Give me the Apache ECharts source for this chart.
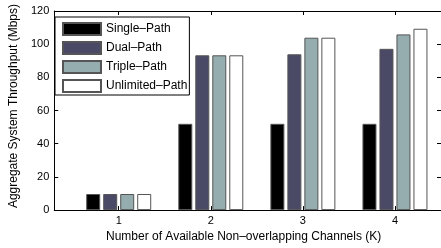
<!DOCTYPE html>
<html>
<head>
<meta charset="utf-8">
<script src="https://cdn.jsdelivr.net/npm/echarts@6/dist/echarts.min.js"></script>
<style>html,body{margin:0;padding:0;background:#fff}#c{width:441px;height:248px}</style>
</head>
<body>
<div id="c"></div>
<script>
var categories = [1, 2, 3, 4];
var categoryLabels = ['1', '2', '3', '4'];
var seriesNames = ['Single\u2013Path', 'Dual\u2013Path', 'Triple\u2013Path', 'Unlimited\u2013Path'];
var singlePath = [9.7, 52, 52, 52];
var dualPath = [9.7, 93.3, 93.9, 97.2];
var triplePath = [9.7, 93.3, 103.9, 105.9];
var unlimitedPath = [9.7, 93.3, 103.9, 109.3];
var yTicks = [0, 20, 40, 60, 80, 100, 120];

var colors = ['#000000', '#4a4a67', '#95adae', '#ffffff'];
var allValues = [singlePath, dualPath, triplePath, unlimitedPath];
var FONT = 'Liberation Sans, Arial, Helvetica, sans-serif';

var chart = echarts.init(document.getElementById('c'), null, {renderer: 'canvas'});

function pairs(vals) {
  return vals.map(function (v, i) { return [categories[i], v]; });
}

var series = allValues.map(function (vals, k) {
  return {
    name: seriesNames[k],
    type: 'bar',
    xAxisIndex: 0,
    yAxisIndex: 0,
    data: pairs(vals),
    barWidth: 14,
    barGap: '21.4%',
    itemStyle: {color: colors[k], borderColor: '#555', borderWidth: 1},
    emphasis: {disabled: true},
    animation: false
  };
});

var axisLineStyle = {show: true, onZero: false, lineStyle: {color: '#000', width: 1}};

chart.setOption({
  animation: false,
  grid: {left: 49, top: 11, width: 393.5, height: 202.3, containLabel: false},
  legend: {
    orient: 'vertical',
    left: 55,
    top: 17,
    padding: [5, 2, 2, 7],
    itemWidth: 38,
    itemHeight: 12,
    itemGap: 5,
    icon: 'rect',
    backgroundColor: '#fff',
    borderColor: '#000',
    borderWidth: 1,
    borderRadius: 0,
    selectedMode: false,
    textStyle: {fontSize: 12, fontFamily: FONT, color: '#000'},
    data: seriesNames
  },
  xAxis: [{
    type: 'value',
    min: 0.3,
    max: 4.5,
    position: 'bottom',
    name: 'Number of Available Non\u2013overlapping Channels (K)',
    nameLocation: 'middle',
    nameGap: 20,
    nameTextStyle: {fontSize: 12, fontFamily: FONT, color: '#000', padding: [0, 8, 0, 0]},
    axisLine: axisLineStyle,
    axisTick: {show: true, inside: true, length: 4, customValues: categories, lineStyle: {color: '#000'}},
    axisLabel: {show: true, customValues: categories, fontSize: 11, fontFamily: FONT, color: '#000', margin: 5,
      formatter: function (v) { return categoryLabels[categories.indexOf(v)]; }},
    splitLine: {show: false}
  }, {
    type: 'value',
    min: 0.3,
    max: 4.5,
    position: 'top',
    axisLine: axisLineStyle,
    axisTick: {show: true, inside: true, length: 4, customValues: categories, lineStyle: {color: '#000'}},
    axisLabel: {show: false},
    splitLine: {show: false}
  }],
  yAxis: [{
    type: 'value',
    min: 0,
    max: 120,
    interval: 20,
    position: 'left',
    name: 'Aggregate System Throughput (Mbps)',
    nameLocation: 'middle',
    nameGap: 28,
    nameTextStyle: {fontSize: 12, fontFamily: FONT, color: '#000', padding: [0, 0, 0, 9]},
    axisLine: axisLineStyle,
    axisTick: {show: true, inside: true, length: 4, customValues: yTicks, lineStyle: {color: '#000'}},
    axisLabel: {show: true, customValues: yTicks, fontSize: 11, fontFamily: FONT, color: '#000', margin: 5},
    splitLine: {show: false}
  }, {
    type: 'value',
    min: 0,
    max: 120,
    interval: 20,
    position: 'right',
    axisLine: axisLineStyle,
    axisTick: {show: true, inside: true, length: 4, customValues: yTicks, lineStyle: {color: '#000'}},
    axisLabel: {show: false},
    splitLine: {show: false}
  }],
  series: series
});
</script>
</body>
</html>
